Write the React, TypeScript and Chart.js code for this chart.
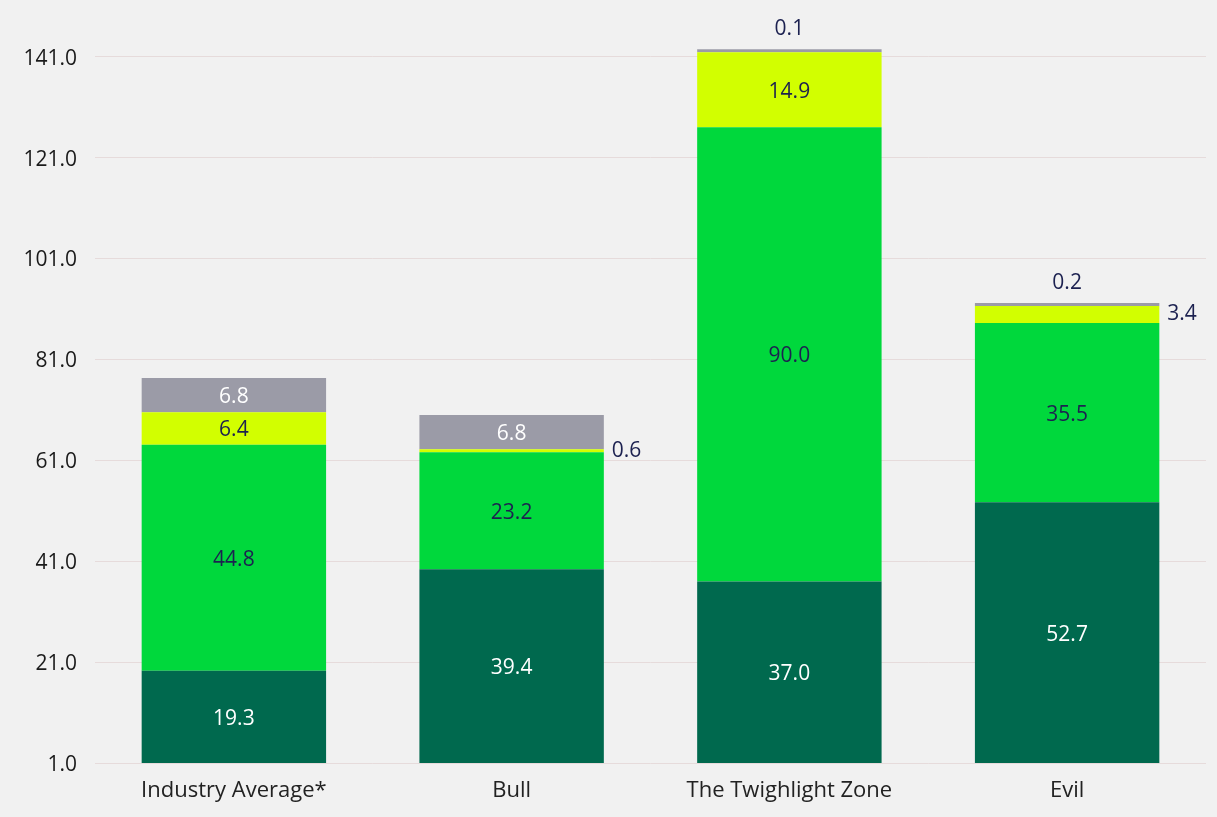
import React, { useEffect, useRef } from "react";
import { Chart, registerables } from "chart.js";

Chart.register(...registerables);

const categories = ["Industry Average*", "Bull", "The Twighlight Zone", "Evil"];
const seriesBase = [19.3, 39.4, 37.0, 52.7];
const seriesGreen = [44.8, 23.2, 90.0, 35.5];
const seriesLime = [6.4, 0.6, 14.9, 3.4];
const seriesGrey = [6.8, 6.8, 0.1, 0.2];
const yTicks = [1, 21, 41, 61, 81, 101, 121, 141];

const FONT = "'Open Sans', Lato, sans-serif";
const BG = "#f1f1f1";
const NAVY = "#1c2150";

const valueLabels = {
  id: "valueLabels",
  afterDatasetsDraw(chart: any) {
    const { ctx, chartArea } = chart;
    const n = chart.data.datasets.length;
    ctx.save();
    ctx.font = `21px ${FONT}`;
    chart.data.datasets.forEach((ds: any, i: number) => {
      const meta = chart.getDatasetMeta(i);
      meta.data.forEach((bar: any, j: number) => {
        const p = bar.getProps(["x", "y", "base", "width"], true);
        const top = Math.min(p.y, p.base);
        const bottom = Math.min(Math.max(p.y, p.base), chartArea.bottom);
        const h = bottom - top;
        const text = Number(ds.data[j]).toFixed(1);
        if (h >= 20) {
          ctx.fillStyle = ds.labelColor;
          ctx.textAlign = "center";
          ctx.textBaseline = "middle";
          ctx.fillText(text, p.x, (top + bottom) / 2 + 2);
        } else if (i === n - 1) {
          ctx.fillStyle = NAVY;
          ctx.textAlign = "center";
          ctx.textBaseline = "middle";
          ctx.fillText(text, p.x, top - 20);
        } else {
          ctx.fillStyle = NAVY;
          ctx.textAlign = "left";
          ctx.textBaseline = "middle";
          ctx.fillText(text, p.x + p.width / 2 + 8, (top + bottom) / 2);
        }
      });
    });
    ctx.restore();
  },
};

const background = {
  id: "background",
  beforeDraw(chart: any) {
    const { ctx, width, height } = chart;
    ctx.save();
    ctx.fillStyle = BG;
    ctx.fillRect(0, 0, width, height);
    ctx.restore();
  },
};

export default function App() {
  const ref = useRef<HTMLCanvasElement | null>(null);

  useEffect(() => {
    document.body.style.margin = "0";
    document.body.style.background = BG;
    let chart: Chart | null = null;
    let cancelled = false;
    const make = () => {
      if (cancelled || !ref.current) return;
      chart = new Chart(ref.current, {
        type: "bar",
        data: {
          labels: categories,
          datasets: [
            { label: "A", data: seriesBase, backgroundColor: "#00694e", labelColor: "#ffffff" } as any,
            { label: "B", data: seriesGreen, backgroundColor: "#00d83c", labelColor: NAVY } as any,
            { label: "C", data: seriesLime, backgroundColor: "#d2ff00", labelColor: NAVY } as any,
            { label: "D", data: seriesGrey, backgroundColor: "#9b9ba7", labelColor: "#ffffff", minBarLength: 3 } as any,
          ],
        },
        options: {
          responsive: false,
          animation: false,
          layout: { padding: { top: 36.5, right: 11, left: 0, bottom: 0 } },
          plugins: {
            legend: { display: false },
            tooltip: { enabled: false },
          },
          datasets: { bar: { categoryPercentage: 0.8, barPercentage: 0.83 } },
          scales: {
            x: {
              stacked: true,
              grid: { display: false, drawTicks: false },
              border: { display: false },
              ticks: { padding: 15, color: "#222222", font: { family: FONT, size: 22 } },
              afterFit(scale: any) {
                scale.height = 54;
              },
            },
            y: {
              stacked: true,
              min: 1,
              max: 145,
              grid: { color: "#e6dbdb", lineWidth: 1, drawTicks: false },
              border: { display: false },
              ticks: {
                padding: 18,
                labelOffset: 2,
                color: "#1a1a1a",
                font: { family: FONT, size: 21 },
                callback: (v: any) => Number(v).toFixed(1),
              },
              afterBuildTicks(scale: any) {
                scale.ticks = yTicks.map((v) => ({ value: v }));
              },
              afterFit(scale: any) {
                scale.width = 95;
              },
            },
          },
        },
        plugins: [background, valueLabels],
      });
    };
    const fontsReady = (document as any).fonts?.load
      ? Promise.all([
          (document as any).fonts.load(`21px 'Open Sans'`),
          (document as any).fonts.load(`22px 'Open Sans'`),
        ]).catch(() => null)
      : Promise.resolve();
    fontsReady.then(make);
    return () => {
      cancelled = true;
      if (chart) chart.destroy();
    };
  }, []);

  return (
    <div style={{ width: 1217, height: 817, background: BG }}>
      <canvas ref={ref} width={1217} height={817} style={{ display: "block" }} />
    </div>
  );
}
